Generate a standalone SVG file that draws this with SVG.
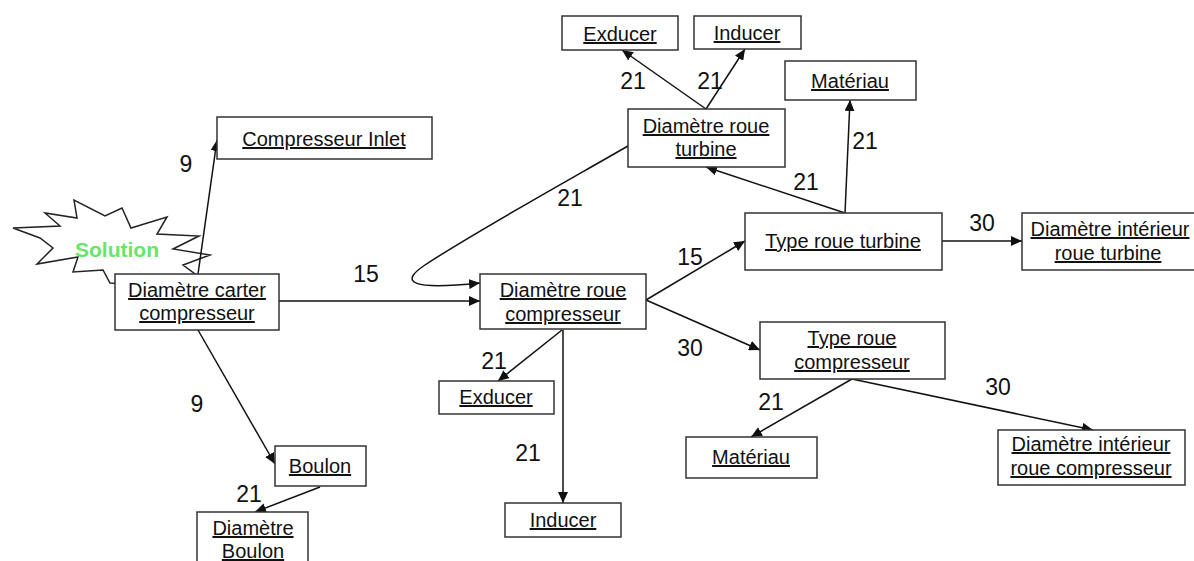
<svg xmlns="http://www.w3.org/2000/svg" width="1194" height="561" viewBox="0 0 1194 561">
<style>
.box{fill:#fff;stroke:#333;stroke-width:1.5}
.t{font-family:"Liberation Sans",Arial,sans-serif;font-size:20px;fill:#111;text-anchor:middle;text-decoration:underline}
.n{font-family:"Liberation Sans",Arial,sans-serif;font-size:23px;fill:#111;text-anchor:middle}
.c{fill:none;stroke:#111;stroke-width:1.5;marker-end:url(#ah)}
</style>
<defs>
<marker id="ah" markerUnits="userSpaceOnUse" markerWidth="12" markerHeight="10" refX="11" refY="5" orient="auto">
<path d="M0,0 L11,5 L0,10 Z" fill="#111"/>
</marker>
</defs>
<rect width="1194" height="561" fill="#fff"/>
<g id="solution">
<polygon points="13,228 60,226 45,213 77,218 74,200 105,216 122,208 131,228 167,217 157,234 199,236 173,249 210,255 183,265 195,274 150,285 110,283 103,270 73,272 78,257 37,264 53,248 40,238" fill="#fff" stroke="#222" stroke-width="1.5"/>
<text x="117" y="257" font-family="Liberation Sans,Arial,sans-serif" font-size="21" font-weight="bold" fill="#66e666" text-anchor="middle">Solution</text>
</g>
<g id="connectors">
<line class="c" x1="198" y1="274" x2="217" y2="140"/>
<line class="c" x1="279" y1="301" x2="480" y2="301"/>
<line class="c" x1="198" y1="330" x2="275" y2="464"/>
<line class="c" x1="320" y1="487" x2="255" y2="512"/>
<path class="c" d="M628,146 C560,185 470,235 425,265 C398,283 412,290 480,283"/>
<line class="c" x1="562" y1="330" x2="498" y2="381"/>
<line class="c" x1="563" y1="330" x2="563" y2="503"/>
<line class="c" x1="646" y1="300" x2="745" y2="241"/>
<line class="c" x1="646" y1="300" x2="760" y2="350"/>
<line class="c" x1="845" y1="213" x2="706" y2="167"/>
<line class="c" x1="845" y1="213" x2="850" y2="100"/>
<line class="c" x1="942" y1="241" x2="1022" y2="241"/>
<line class="c" x1="706" y1="109" x2="622" y2="50"/>
<line class="c" x1="706" y1="109" x2="745" y2="49"/>
<line class="c" x1="852" y1="379" x2="751" y2="437"/>
<line class="c" x1="852" y1="379" x2="1093" y2="430"/>
<text class="n" x="186" y="172">9</text>
<text class="n" x="366" y="282">15</text>
<text class="n" x="197" y="412">9</text>
<text class="n" x="249" y="502">21</text>
<text class="n" x="570" y="206">21</text>
<text class="n" x="494" y="369">21</text>
<text class="n" x="528" y="461">21</text>
<text class="n" x="690" y="265">15</text>
<text class="n" x="690" y="356">30</text>
<text class="n" x="633" y="89">21</text>
<text class="n" x="710" y="89">21</text>
<text class="n" x="806" y="190">21</text>
<text class="n" x="865" y="149">21</text>
<text class="n" x="982" y="231">30</text>
<text class="n" x="771" y="410">21</text>
<text class="n" x="998" y="395">30</text>
</g>
<g id="exducer-top"><rect class="box" x="562" y="16" width="116" height="34"/><text class="t" x="620" y="41">Exducer</text></g>
<g id="inducer-top"><rect class="box" x="694" y="16" width="107" height="33"/><text class="t" x="747" y="40">Inducer</text></g>
<g id="materiau-top"><rect class="box" x="785" y="61" width="131" height="39"/><text class="t" x="850" y="88">Matériau</text></g>
<g id="compresseur-inlet"><rect class="box" x="217" y="117" width="215" height="42"/><text class="t" x="324" y="146">Compresseur Inlet</text></g>
<g id="diametre-roue-turbine"><rect class="box" x="628" y="109" width="157" height="58"/><text class="t" x="706" y="133">Diamètre roue</text><text class="t" x="706" y="156">turbine</text></g>
<g id="type-roue-turbine"><rect class="box" x="745" y="213" width="197" height="57"/><text class="t" x="843" y="248">Type roue turbine</text></g>
<g id="diametre-interieur-roue-turbine"><rect class="box" x="1022" y="213" width="180" height="57"/><text class="t" x="1110" y="236">Diamètre intérieur</text><text class="t" x="1108" y="260">roue turbine</text></g>
<g id="diametre-carter-compresseur"><rect class="box" x="115" y="274" width="164" height="56"/><text class="t" x="197" y="297">Diamètre carter</text><text class="t" x="197" y="320">compresseur</text></g>
<g id="diametre-roue-compresseur"><rect class="box" x="480" y="274" width="166" height="55"/><text class="t" x="563" y="297">Diamètre roue</text><text class="t" x="563" y="321">compresseur</text></g>
<g id="type-roue-compresseur"><rect class="box" x="760" y="322" width="185" height="57"/><text class="t" x="852" y="345">Type roue</text><text class="t" x="852" y="369">compresseur</text></g>
<g id="exducer-bottom"><rect class="box" x="439" y="381" width="115" height="33"/><text class="t" x="496" y="404">Exducer</text></g>
<g id="materiau-bottom"><rect class="box" x="686" y="437" width="131" height="41"/><text class="t" x="751" y="464">Matériau</text></g>
<g id="diametre-interieur-roue-compresseur"><rect class="box" x="998" y="430" width="187" height="55"/><text class="t" x="1091" y="451">Diamètre intérieur</text><text class="t" x="1091" y="475">roue compresseur</text></g>
<g id="boulon"><rect class="box" x="275" y="446" width="91" height="40"/><text class="t" x="320" y="473">Boulon</text></g>
<g id="inducer-bottom"><rect class="box" x="505" y="503" width="116" height="34"/><text class="t" x="563" y="527">Inducer</text></g>
<g id="diametre-boulon"><rect class="box" x="197" y="512" width="111" height="60"/><text class="t" x="253" y="535">Diamètre</text><text class="t" x="253" y="558">Boulon</text></g>
</svg>
